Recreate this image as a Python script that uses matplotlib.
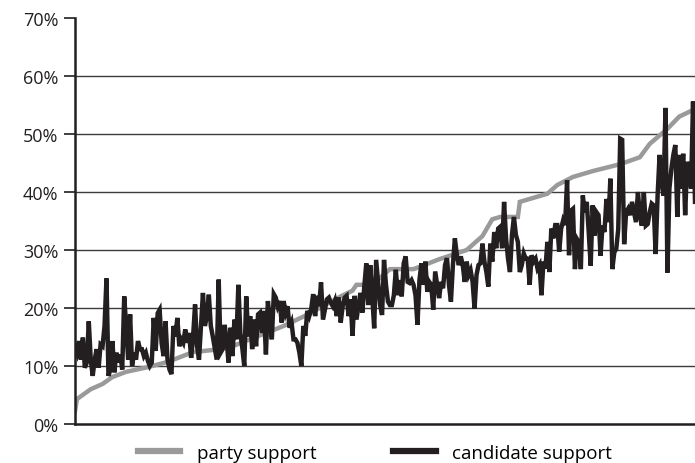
import matplotlib
matplotlib.use("Agg")
import matplotlib.pyplot as plt
from matplotlib.lines import Line2D
from matplotlib.ticker import FuncFormatter

plt.rcParams["font.family"] = ["Open Sans", "DejaVu Sans"]

# candidate support per district (%), districts sorted by party support
candidate_support = [
    13.4, 12.3, 14.3, 11.1, 14.9, 9.7, 10.6, 17.7, 11.1, 8.3, 11.1, 12.9, 9.7, 13.7, 13.4,
    16.9, 25.1, 8.3, 9.4, 14.3, 8.9, 12.3, 10.6, 12.0, 9.4, 22.0, 16.9, 11.1, 18.9, 10.0,
    12.3, 11.1, 14.3, 12.9, 12.9, 11.7, 12.3, 10.9, 10.0, 10.6, 18.3, 12.6, 19.1, 19.7,
    14.0, 11.7, 17.7, 11.1, 9.4, 8.6, 16.9, 15.1, 18.3, 13.4, 14.6, 14.0, 16.3, 14.0, 15.7,
    11.4, 15.1, 20.6, 13.4, 11.1, 16.9, 22.6, 16.9, 18.6, 22.3, 16.9, 15.1, 13.1, 11.1, 24.9,
    12.3, 12.9, 17.1, 14.6, 10.6, 16.6, 11.7, 18.0, 14.6, 24.0, 15.7, 13.1, 10.0, 22.0, 15.1,
    18.6, 12.9, 18.0, 13.4, 18.9,
    19.2, 15.7, 19.5, 12.0, 21.2, 18.0, 14.6, 22.4, 21.8, 20.3, 21.2, 17.5, 21.2, 19.2, 20.3,
    16.6, 17.5, 14.6, 14.6, 14.0, 12.3, 10.0, 16.9, 15.2, 19.5, 18.6, 19.8, 22.4, 18.6, 22.1,
    20.3, 24.4, 18.0, 19.8, 21.5, 21.8, 20.9, 20.3, 21.2, 18.6, 21.8, 17.5, 20.3, 21.8, 22.1,
    18.6, 21.5, 15.2, 22.1, 18.0, 20.3, 22.6, 19.2, 23.8,
    27.7, 20.5, 27.4, 22.2, 16.5, 28.3, 24.5, 20.5, 18.8, 28.3, 24.0, 21.1, 20.5, 20.5, 22.2,
    26.6, 22.2, 24.8, 22.0, 27.7, 28.9, 24.5, 24.3, 24.8, 24.0, 22.2, 17.1, 24.8, 27.7, 24.0,
    28.0, 22.8, 24.5, 24.0, 19.7, 26.3, 24.0, 21.7, 24.5, 23.4, 27.4, 28.6, 24.0, 21.1, 27.4,
    32.0, 29.1, 27.4, 28.9, 27.4, 24.5,
    28.0, 25.7, 26.5, 24.5, 19.9, 25.7, 27.4, 27.7, 31.1, 28.0, 26.2, 23.7, 31.1, 28.0, 33.1,
    30.3, 33.7, 34.0, 30.3, 38.3, 32.0, 28.5, 26.2, 32.6, 35.7, 32.6, 31.4, 26.2, 27.4, 29.4,
    28.5, 28.5, 24.0, 29.1, 28.0, 28.5, 26.8, 27.4, 22.2, 28.0, 26.8, 31.4, 26.2, 33.7, 32.0,
    34.3, 34.3, 29.7, 33.7, 35.1, 34.3, 42.0, 29.1, 36.8,
    37.1, 26.7, 31.9, 31.3, 26.7, 39.4, 36.5, 38.3, 33.1, 27.3, 37.7, 32.5, 36.5, 36.0, 29.0,
    34.2, 33.1, 38.8, 34.8, 42.3, 26.7, 29.6, 30.2, 33.6, 49.2, 49.0, 31.0, 36.5, 37.1, 36.0,
    38.3, 36.5, 34.8, 40.0, 36.0, 34.2, 40.0, 34.2, 34.5, 36.5, 38.0, 37.7, 29.3, 39.4, 46.4,
    41.7, 39.4, 54.5, 26.1, 40.6, 44.0, 46.4, 48.1, 35.7, 46.4, 40.6, 46.6, 36.0, 45.2, 44.0,
    40.6, 55.6, 38.3,
]

# party support, read at selected district ranks
party_rank = [0, 1, 8, 14, 19, 26, 37, 47, 60, 74, 80, 106, 119, 135, 141, 143, 151,
              160, 172, 185, 199, 207, 212, 216, 225, 226, 240, 245, 253, 263, 277, 287,
              292, 301, 307, 315]
party_support = [2.2, 4.3, 6.0, 6.9, 8.1, 9.0, 9.8, 10.7, 12.4, 12.9, 13.4, 16.9, 19.0,
                 22.0, 23.0, 24.0, 24.0, 26.7, 26.7, 28.4, 30.0, 32.4, 35.3, 35.7, 35.7,
                 38.3, 39.7, 41.2, 42.6, 43.6, 44.8, 46.0, 48.3, 50.9, 53.0, 54.3]

y_ticks = [0, 10, 20, 30, 40, 50, 60, 70]

gray = "#9a9a9a"
black = "#231f20"

fig = plt.figure(figsize=(6.95, 4.64), dpi=100)
ax = fig.add_axes([75 / 695, 39 / 464, 620 / 695, 406 / 464])

# gridlines only between the axis and the top tick
for t in y_ticks[1:-1]:
    ax.axhline(t, color="#3c3c3c", lw=1.0, zorder=1)

ax.plot(party_rank, party_support, color=gray, lw=3.2, zorder=2,
        solid_joinstyle="miter")
ax.plot(range(len(candidate_support)), candidate_support, color=black, lw=3.2,
        zorder=3, solid_joinstyle="miter")

ax.set_xlim(0, len(candidate_support) - 1)
ax.set_ylim(0, 70)
ax.set_yticks(y_ticks)
ax.yaxis.set_major_formatter(FuncFormatter(lambda v, p: f"{v:.0f}%"))
ax.set_xticks([])
ax.tick_params(axis="y", length=8, width=1.2, color=black, labelsize=13,
               labelcolor=black, pad=4)

for side in ["top", "right"]:
    ax.spines[side].set_visible(False)
for side in ["left", "bottom"]:
    ax.spines[side].set_linewidth(1.8)
    ax.spines[side].set_color(black)

handles = [Line2D([], [], color=gray, lw=4.5),
           Line2D([], [], color=black, lw=4.5)]
fig.legend(handles, ["party support", "candidate support"], loc="center",
           bbox_to_anchor=(375 / 695, 10 / 464), ncol=2, frameon=False,
           fontsize=13.5, handlelength=2.25, handletextpad=0.9, columnspacing=4.1)

fig.savefig("out.png", dpi=100)
